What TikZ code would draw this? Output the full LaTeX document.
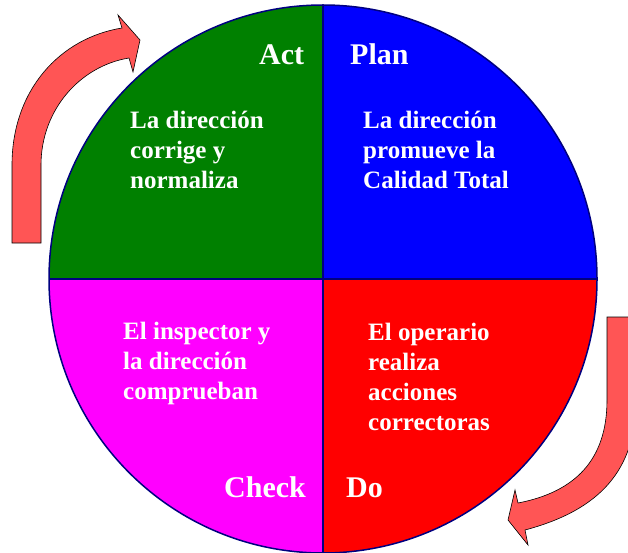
\documentclass[tikz,border=0pt]{standalone}
\usepackage{fontspec}
\setmainfont{Liberation Serif}
\usetikzlibrary{positioning}
\definecolor{actgreen}{RGB}{0,128,0}
\definecolor{planblue}{RGB}{0,0,255}
\definecolor{dored}{RGB}{255,0,0}
\definecolor{checkpink}{RGB}{255,0,255}
\definecolor{rimblue}{RGB}{0,0,128}
\definecolor{turnred}{RGB}{255,85,85}

\begin{document}
\begin{tikzpicture}[x=1pt,y=-1pt,
  rim/.style={draw=rimblue, line width=1.5pt},
  body/.style={text=white, font=\bfseries\fontsize{25}{30}\selectfont, align=left, inner sep=0pt, anchor=base west},
  phase/.style={text=white, font=\bfseries\fontsize{30}{36}\selectfont, inner sep=0pt, anchor=base west},
  turn/.style={fill=turnred, draw=black, line width=0.6pt}]
\useasboundingbox (0,0) rectangle (628,553);
\coordinate (c) at (323,279);

% quadrants
\begin{scope}
\clip (c) circle (274);
\fill[actgreen]  (40,0)   rectangle (c);
\fill[planblue]  (610,0)  rectangle (c);
\fill[checkpink] (40,560) rectangle (c);
\fill[dored]     (610,560) rectangle (c);
\end{scope}
\draw[rim] (c) circle (274);
\draw[rimblue, line width=2pt] (323,5) -- (323,553) (49,279) -- (597,279);

% texts (base = last line)
\path
(259,65)  node[phase] (act)   {Act}
(350,65)  node[phase] (plan)  {Plan}
(224,497) node[phase] (check) {Check}
(346,497) node[phase] (do)    {Do}
(130,189) node[body] (tact)   {La dirección\\corrige y\\normaliza}
(363,189) node[body] (tplan)  {La dirección\\promueve la\\Calidad Total}
(123,399) node[body] (tcheck) {El inspector y\\la dirección\\comprueban}
(368,430) node[body] (tdo)    {El operario\\realiza\\acciones\\correctoras};

% turning arrows
\draw[turn] (12,243) -- (12,165) .. controls (12,90) and (60,38) .. (122,28)
  -- (118,15) -- (140,40) -- (133,72) -- (129,58)
  .. controls (80,66) and (41,110) .. (41,165) -- (41,243) -- cycle;
\begin{scope}
\clip (0,0) rectangle (628,553);
\draw[turn] (607,317) -- (607,400) .. controls (607,460) and (575,492) .. (518,503)
  -- (515,490) -- (508,520) -- (528,545) -- (525,530)
  .. controls (600,510) and (636,470) .. (636,400) -- (636,317) -- cycle;
\end{scope}
\end{tikzpicture}
\end{document}
